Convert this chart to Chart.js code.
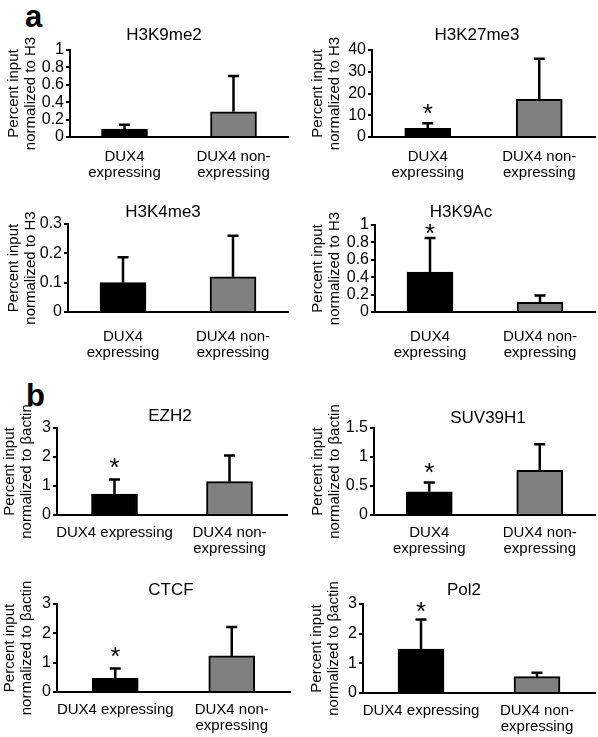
<!DOCTYPE html>
<html>
<head>
<meta charset="utf-8">
<script src="https://cdn.jsdelivr.net/npm/chart.js@4.4.0/dist/chart.umd.min.js"></script>
<style>
  html, body { margin: 0; padding: 0; background: #fff; }
  #fig { position: relative; width: 598px; height: 737px; overflow: hidden; font-family: "Liberation Sans", Arial, sans-serif; }
  #fig canvas { position: absolute; }
  .tag { position: absolute; font-weight: bold; font-size: 31px; line-height: 1; color: #000; }
</style>
</head>
<body>
<div id="fig">
  <div class="tag" style="left:25px;top:1px">a</div>
  <div class="tag" style="left:26px;top:380px">b</div>
</div>
<script>
// categories
var groupsTwoLine = [['DUX4', 'expressing'], ['DUX4 non-', 'expressing']];
var groupsOneLine = ['DUX4 expressing', ['DUX4 non-', 'expressing']];
var yTitleH3 = ['Percent input', 'normalized to H3'];
var yTitleActin = ['Percent input', 'normalized to \u03b2actin'];

// series: mean, top of error bar, asterisk height
var meanH3K9me2 = [0.09, 0.29], errH3K9me2 = [0.14, 0.70], starH3K9me2 = [null, null];
var meanH3K27me3 = [4, 17.3], errH3K27me3 = [6.3, 36], starH3K27me3 = [13.8, null];
var meanH3K4me3 = [0.1, 0.12], errH3K4me3 = [0.187, 0.26], starH3K4me3 = [null, null];
var meanH3K9Ac = [0.46, 0.11], errH3K9Ac = [0.85, 0.19], starH3K9Ac = [0.98, null];
var meanEZH2 = [0.72, 1.15], errEZH2 = [1.22, 2.05], starEZH2 = [1.84, null];
var meanSUV39H1 = [0.4, 0.77], errSUV39H1 = [0.56, 1.22], starSUV39H1 = [0.85, null];
var meanCTCF = [0.47, 1.23], errCTCF = [0.8, 2.22], starCTCF = [1.43, null];
var meanPol2 = [1.48, 0.55], errPol2 = [2.48, 0.68], starPol2 = [2.97, null];

// tick labels
var ticksUnit = [0, 0.2, 0.4, 0.6, 0.8, 1];
var ticks40 = [0, 10, 20, 30, 40];
var ticks03 = [0, 0.1, 0.2, 0.3];
var ticks3 = [0, 1, 2, 3];
var ticks15 = [0, 0.5, 1, 1.5];

var FONT = '"Liberation Sans", Arial, sans-serif';

// plot = [left, top, right, bottom] of the plotting area on the page
var panels = [
  { title: 'H3K9me2', mean: meanH3K9me2, err: errH3K9me2, star: starH3K9me2, ticks: ticksUnit, cats: groupsTwoLine, yTitle: yTitleH3,
    plot: [70, 50, 288, 137], yTitleX: 14, titleX: 164, titleY: 35, labelPad: 12 },
  { title: 'H3K27me3', mean: meanH3K27me3, err: errH3K27me3, star: starH3K27me3, ticks: ticks40, cats: groupsTwoLine, yTitle: yTitleH3,
    plot: [372, 50, 595, 137], yTitleX: 318, titleX: 477, titleY: 35, labelPad: 12 },
  { title: 'H3K4me3', mean: meanH3K4me3, err: errH3K4me3, star: starH3K4me3, ticks: ticks03, cats: groupsTwoLine, yTitle: yTitleH3,
    plot: [68, 224, 288, 312], yTitleX: 14, titleX: 163, titleY: 212, labelPad: 17 },
  { title: 'H3K9Ac', mean: meanH3K9Ac, err: errH3K9Ac, star: starH3K9Ac, ticks: ticksUnit, cats: groupsTwoLine, yTitle: yTitleH3,
    plot: [375, 225, 595, 312], yTitleX: 318, titleX: 461, titleY: 212, labelPad: 17 },
  { title: 'EZH2', mean: meanEZH2, err: errEZH2, star: starEZH2, ticks: ticks3, cats: groupsOneLine, yTitle: yTitleActin,
    plot: [57, 428, 287, 515], yTitleX: 10, titleX: 170, titleY: 416, labelPad: 10 },
  { title: 'SUV39H1', mean: meanSUV39H1, err: errSUV39H1, star: starSUV39H1, ticks: ticks15, cats: groupsTwoLine, yTitle: yTitleActin,
    plot: [374, 428, 595, 515], yTitleX: 318, titleX: 488, titleY: 418, labelPad: 10 },
  { title: 'CTCF', mean: meanCTCF, err: errCTCF, star: starCTCF, ticks: ticks3, cats: groupsOneLine, yTitle: yTitleActin,
    plot: [57, 604, 290, 692], yTitleX: 10, titleX: 171, titleY: 590, labelPad: 10 },
  { title: 'Pol2', mean: meanPol2, err: errPol2, star: starPol2, ticks: ticks3, cats: groupsOneLine, yTitle: yTitleActin,
    plot: [363, 604, 595, 693], yTitleX: 317, titleX: 464, titleY: 590, labelPad: 10 }
];

// error bars, asterisks and the panel title
function marks(p, left, top) {
  return {
    id: 'marks',
    afterDatasetsDraw: function (chart) {
      var ctx = chart.ctx, y = chart.scales.y, bars = chart.getDatasetMeta(0).data;
      ctx.save();
      ctx.strokeStyle = '#000';
      ctx.lineWidth = 2.5;
      p.err.forEach(function (top, i) {
        var x = bars[i].x, y0 = y.getPixelForValue(p.mean[i]), y1 = y.getPixelForValue(top);
        ctx.beginPath();
        ctx.moveTo(x, y0);
        ctx.lineTo(x, y1);
        ctx.moveTo(x - 5.5, y1);
        ctx.lineTo(x + 5.5, y1);
        ctx.stroke();
      });
      ctx.fillStyle = '#000';
      ctx.textAlign = 'center';
      ctx.textBaseline = 'alphabetic';
      ctx.font = '26px ' + FONT;
      p.star.forEach(function (s, i) {
        if (s == null) return;
        ctx.fillText('*', bars[i].x, y.getPixelForValue(s) + 0.57 * 26);
      });
      ctx.font = '17px ' + FONT;
      ctx.textBaseline = 'middle';
      ctx.fillText(p.title, p.titleX - left, p.titleY - top);
      ctx.restore();
    }
  };
}

var fig = document.getElementById('fig');
panels.forEach(function (p) {
  var left = Math.round(p.yTitleX - 8), top = Math.round(p.titleY - 16);
  var padRight = 3, xH = 50;
  var width = p.plot[2] + padRight - left, height = p.plot[3] + xH - top;
  var yW = p.plot[0] - left;
  var cv = document.createElement('canvas');
  cv.width = width;
  cv.height = height;
  cv.style.left = left + 'px';
  cv.style.top = top + 'px';
  cv.style.width = width + 'px';
  cv.style.height = height + 'px';
  fig.appendChild(cv);

  new Chart(cv.getContext('2d'), {
    type: 'bar',
    data: {
      labels: p.cats,
      datasets: [{
        data: p.mean,
        backgroundColor: ['#000000', '#808080'],
        borderColor: '#000000',
        borderWidth: 2,
        barThickness: 46
      }]
    },
    options: {
      responsive: false,
      animation: false,
      devicePixelRatio: 1,
      layout: { padding: { top: p.plot[1] - top, right: padRight, left: 0, bottom: 0 } },
      plugins: { legend: { display: false }, tooltip: { enabled: false }, title: { display: false } },
      scales: {
        x: {
          grid: { display: false, drawTicks: false },
          border: { display: true, color: '#000', width: 2 },
          ticks: { color: '#000', font: { family: FONT, size: 15, lineHeight: 1.07 }, padding: p.labelPad, maxRotation: 0, autoSkip: false },
          afterFit: function (s) { s.height = xH; }
        },
        y: {
          min: 0,
          max: p.ticks[p.ticks.length - 1],
          afterBuildTicks: function (s) { s.ticks = p.ticks.map(function (v) { return { value: v }; }); },
          grid: { display: true, drawOnChartArea: false, drawTicks: true, tickLength: 4, color: '#000', lineWidth: 2 },
          border: { display: true, color: '#000', width: 2 },
          ticks: { color: '#000', font: { family: FONT, size: 16 }, padding: 2, autoSkip: false, callback: function (v) { return String(v); } },
          title: { display: true, text: p.yTitle, color: '#000', font: { family: FONT, size: 15, lineHeight: 1.1 }, padding: 0 },
          afterFit: function (s) { s.width = yW; }
        }
      }
    },
    plugins: [marks(p, left, top)]
  });
});
</script>
</body>
</html>
